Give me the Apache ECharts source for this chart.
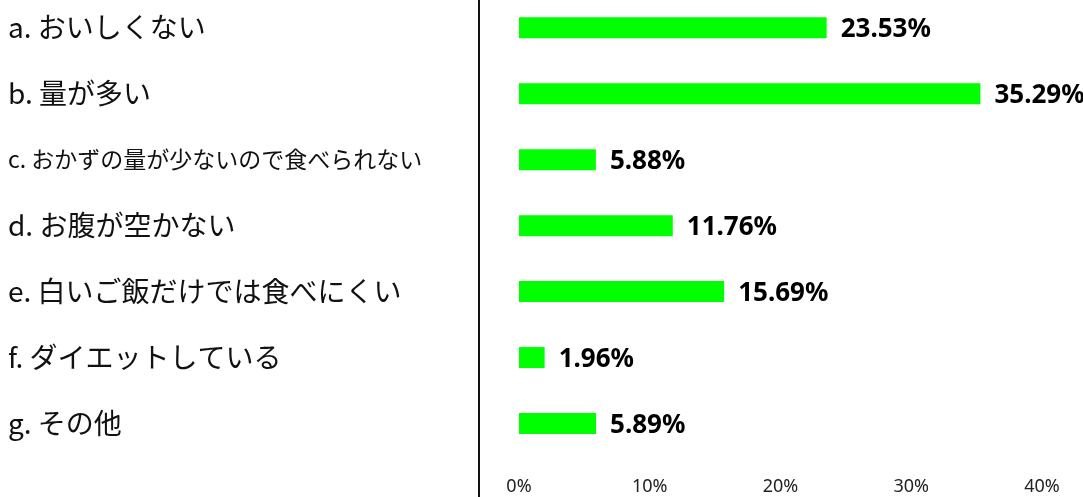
<!DOCTYPE html>
<html>
<head>
<meta charset="utf-8">
<script src="https://cdn.jsdelivr.net/npm/echarts@6/dist/echarts.min.js"></script>
<style>
html,body{margin:0;padding:0;background:#fff;}
#chart{width:1083px;height:497px;}
</style>
</head>
<body>
<div id="chart"></div>
<script>
const categories = [
  'a. おいしくない',
  'b. 量が多い',
  'c. おかずの量が少ないので食べられない',
  'd. お腹が空かない',
  'e. 白いご飯だけでは食べにくい',
  'f. ダイエットしている',
  'g. その他'
];
const values = [23.53, 35.29, 5.88, 11.76, 15.69, 1.96, 5.89];
const xTicks = [0, 10, 20, 30, 40];

const chart = echarts.init(document.getElementById('chart'), null, {renderer: 'canvas'});
const jp = '"Noto Sans CJK JP", "Noto Sans", sans-serif';

chart.setOption({
  animation: false,
  backgroundColor: '#ffffff',
  grid: {left: 519, right: 41, top: -5.2, height: 461.7, containLabel: false, outerBoundsMode: 'none'},
  xAxis: {
    type: 'value',
    min: xTicks[0],
    max: xTicks[xTicks.length - 1],
    interval: 10,
    axisLine: {show: false},
    axisTick: {show: false},
    splitLine: {show: false},
    axisLabel: {
      formatter: v => v + '%',
      color: '#222',
      fontSize: 18,
      fontFamily: '"Noto Sans", sans-serif',
      margin: 21
    }
  },
  yAxis: {
    type: 'category',
    inverse: true,
    data: categories.map((c, i) => i === 2
      ? {value: c, textStyle: {fontSize: 23, align: 'left'}}
      : c),
    axisLine: {show: false},
    axisTick: {show: false},
    splitLine: {show: false},
    axisLabel: {
      align: 'left',
      margin: 511,
      color: '#111',
      fontSize: 28,
      fontFamily: jp
    }
  },
  graphic: [{
    type: 'line',
    shape: {x1: 479, y1: 0, x2: 479, y2: 497},
    style: {stroke: '#111', lineWidth: 2},
    z: 10
  }],
  series: [{
    type: 'bar',
    data: values,
    barWidth: 21,
    itemStyle: {color: '#00ff00'},
    label: {
      show: true,
      position: 'right',
      distance: 14,
      offset: [0, 2],
      formatter: p => p.value.toFixed(2) + '%',
      color: '#000',
      fontWeight: 'bold',
      fontSize: 26,
      fontFamily: '"Noto Sans", sans-serif'
    }
  }]
});
</script>
</body>
</html>
